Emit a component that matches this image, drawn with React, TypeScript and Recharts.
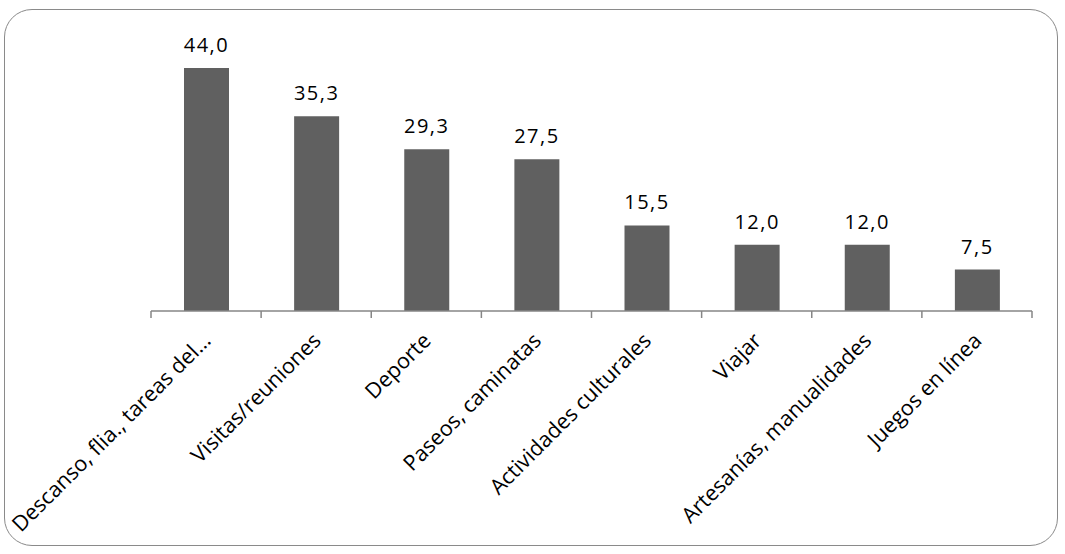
import { BarChart, Bar, XAxis, YAxis, LabelList } from 'recharts'

const categories = [
  'Descanso, flia., tareas del…',
  'Visitas/reuniones',
  'Deporte',
  'Paseos, caminatas',
  'Actividades culturales',
  'Viajar',
  'Artesanías, manualidades',
  'Juegos en línea',
]
const values = [44.0, 35.3, 29.3, 27.5, 15.5, 12.0, 12.0, 7.5]

const data = categories.map((name, i) => ({ name, value: values[i] }))

const FONT = '"Open Sans", sans-serif'
const AXIS = '#868686'

// rotated label + tick marks at the category boundaries
function CategoryTick(props: any) {
  const { x, y, payload, index, visibleTicksCount } = props
  const half = payload.offset ?? 55
  const left = payload.coordinate - half
  const right = payload.coordinate + half
  const ex = x + 6
  const ey = y + 31
  const isLast = index === (visibleTicksCount ?? categories.length) - 1
  return (
    <g>
      <line x1={left} y1={y} x2={left} y2={y + 7} stroke={AXIS} strokeWidth={1.5} />
      {isLast && <line x1={right} y1={y} x2={right} y2={y + 7} stroke={AXIS} strokeWidth={1.5} />}
      <text
        x={ex}
        y={ey}
        textAnchor="end"
        transform={`rotate(-45, ${ex}, ${ey})`}
        fontFamily={FONT}
        fontSize={21.5}
        fill="#000"
      >
        {payload.value}
      </text>
    </g>
  )
}

export default function App() {
  return (
    <div style={{ position: 'absolute', left: 0, top: 0, width: 1065, height: 554, background: '#fff' }}>
      <div
        style={{
          position: 'absolute',
          left: 4,
          top: 9,
          width: 1052,
          height: 535,
          border: '1.5px solid #8a8a8a',
          borderRadius: 28,
        }}
      />
      <div style={{ position: 'absolute', left: 0, top: 0 }}>
        <BarChart
          width={1065}
          height={554}
          data={data}
          margin={{ top: 35, right: 33, bottom: 0, left: 151 }}
          barCategoryGap={0}
        >
          <XAxis
            dataKey="name"
            height={243}
            axisLine={{ stroke: AXIS, strokeWidth: 1.5 }}
            tickLine={false}
            tickSize={0}
            tickMargin={0}
            interval={0}
            tick={<CategoryTick />}
          />
          <YAxis hide width={0} domain={[0, 50]} />
          <Bar dataKey="value" fill="#606060" barSize={45} isAnimationActive={false}>
            <LabelList
              dataKey="value"
              position="top"
              offset={16}
              formatter={(v: any) => Number(v).toFixed(1).replace('.', ',')}
              style={{ fontFamily: FONT, fontSize: 20, fill: '#000', letterSpacing: 1.5 }}
            />
          </Bar>
        </BarChart>
      </div>
    </div>
  )
}
